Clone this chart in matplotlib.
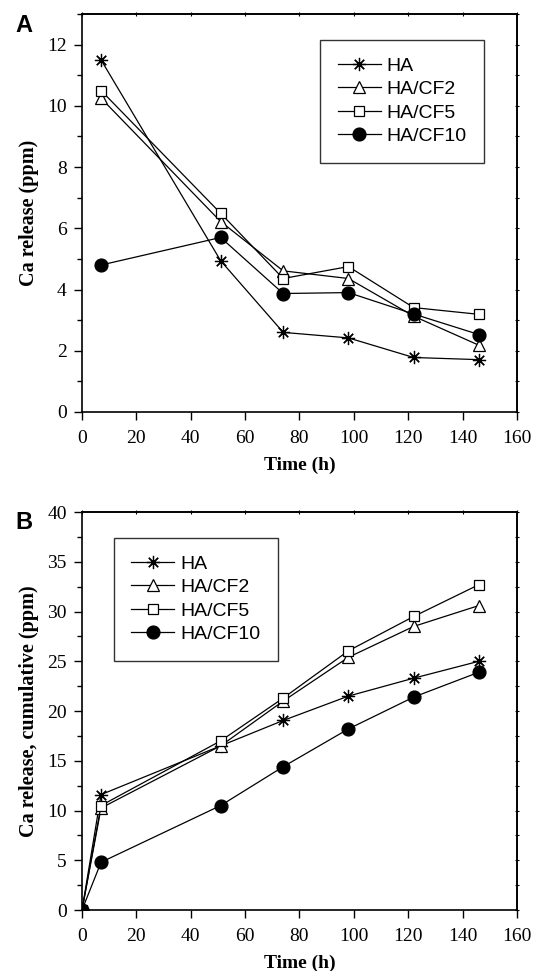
import numpy as np
import matplotlib
matplotlib.use('Agg')
import matplotlib.pyplot as plt
from matplotlib.ticker import MultipleLocator

# sampling times (h)
time_a = [7, 51, 74, 98, 122, 146]
time_b = [0, 7, 51, 74, 98, 122, 146]

labels = ['HA', 'HA/CF2', 'HA/CF5', 'HA/CF10']

# panel A: Ca release per interval (ppm)
ha_a = [11.5, 4.94, 2.6, 2.42, 1.78, 1.71]
cf2_a = [10.25, 6.22, 4.61, 4.36, 3.13, 2.18]
cf5_a = [10.5, 6.49, 4.36, 4.75, 3.41, 3.19]
cf10_a = [4.8, 5.7, 3.87, 3.9, 3.2, 2.53]

# panel B: cumulative Ca release (ppm)
ha_b = [0, 11.6, 16.5, 19.05, 21.5, 23.3, 25.0]
cf2_b = [0, 10.25, 16.5, 21.0, 25.4, 28.5, 30.6]
cf5_b = [0, 10.5, 17.0, 21.3, 26.05, 29.5, 32.7]
cf10_b = [0, 4.8, 10.5, 14.4, 18.2, 21.4, 23.9]

styles = [
    dict(marker=(8, 2, 0), ms=9.5, mfc='black', mec='black', mew=0.9),
    dict(marker='^', ms=9, mfc='white', mec='black', mew=0.9),
    dict(marker='s', ms=7.8, mfc='white', mec='black', mew=0.9),
    dict(marker='o', ms=9.3, mfc='black', mec='black', mew=0.9),
]

serif = 'Liberation Serif'
sans = 'Liberation Sans'

fig = plt.figure(figsize=(5.41, 9.71), dpi=100)
axA = fig.add_axes([0.1516, 0.5757, 0.804, 0.4099])
axB = fig.add_axes([0.1516, 0.0628, 0.804, 0.4099])


def style_axes(ax, ylim, ymaj, ymin, ylabel):
    ax.set_xlim(0, 160)
    ax.set_ylim(*ylim)
    ax.xaxis.set_major_locator(MultipleLocator(20))
    ax.yaxis.set_major_locator(MultipleLocator(ymaj))
    ax.yaxis.set_minor_locator(MultipleLocator(ymin))
    ax.tick_params(axis='both', which='both', direction='out', width=1.0,
                   top=False, right=False, pad=5)
    ax.tick_params(axis='x', pad=7)
    ax.tick_params(which='major', length=6)
    ax.tick_params(which='minor', length=3.5)
    sec_x = ax.secondary_xaxis('top')
    sec_x.xaxis.set_major_locator(MultipleLocator(20))
    sec_x.tick_params(direction='inout', length=3, width=0.8, labeltop=False)
    sec_y = ax.secondary_yaxis('right')
    sec_y.yaxis.set_major_locator(MultipleLocator(ymin))
    sec_y.tick_params(direction='inout', length=3, width=0.8, labelright=False)
    for sp in ax.spines.values():
        sp.set_linewidth(1.2)
    for sp in list(sec_x.spines.values()) + list(sec_y.spines.values()):
        sp.set_linewidth(1.2)
    for lab in ax.get_xticklabels() + ax.get_yticklabels():
        lab.set_fontfamily(serif)
        lab.set_fontsize(14)
    ax.set_xlabel('Time (h)', fontfamily=serif, fontweight='bold', fontsize=14, labelpad=7)
    ax.set_ylabel(ylabel, fontfamily=serif, fontweight='bold', fontsize=14.5, labelpad=6)


for ys, lab, st in zip([ha_a, cf2_a, cf5_a, cf10_a], labels, styles):
    axA.plot(time_a, ys, color='black', lw=0.9, label=lab, **st)
style_axes(axA, (0, 13), 2, 1, 'Ca release (ppm)')
legA = axA.legend(loc='upper right', bbox_to_anchor=(0.947, 0.96), frameon=True,
                  fancybox=False, edgecolor='black', handlelength=2.2,
                  handletextpad=0.3, labelspacing=0.3, borderpad=0.9,
                  prop={'family': sans, 'size': 14})
legA.get_frame().set_linewidth(1.0)

for ys, lab, st in zip([ha_b, cf2_b, cf5_b, cf10_b], labels, styles):
    axB.plot(time_b, ys, color='black', lw=0.9, label=lab, **st)
style_axes(axB, (0, 40), 5, 2.5, 'Ca release, cumulative (ppm)')
legB = axB.legend(loc='upper left', bbox_to_anchor=(0.051, 0.96), frameon=True,
                  fancybox=False, edgecolor='black', handlelength=2.2,
                  handletextpad=0.3, labelspacing=0.3, borderpad=0.9,
                  prop={'family': sans, 'size': 14})
legB.get_frame().set_linewidth(1.0)

fig.text(0.028, 0.967, 'A', fontfamily=sans, fontweight='bold', fontsize=17)
fig.text(0.028, 0.455, 'B', fontfamily=sans, fontweight='bold', fontsize=17)

fig.savefig('out.png', dpi=100)
